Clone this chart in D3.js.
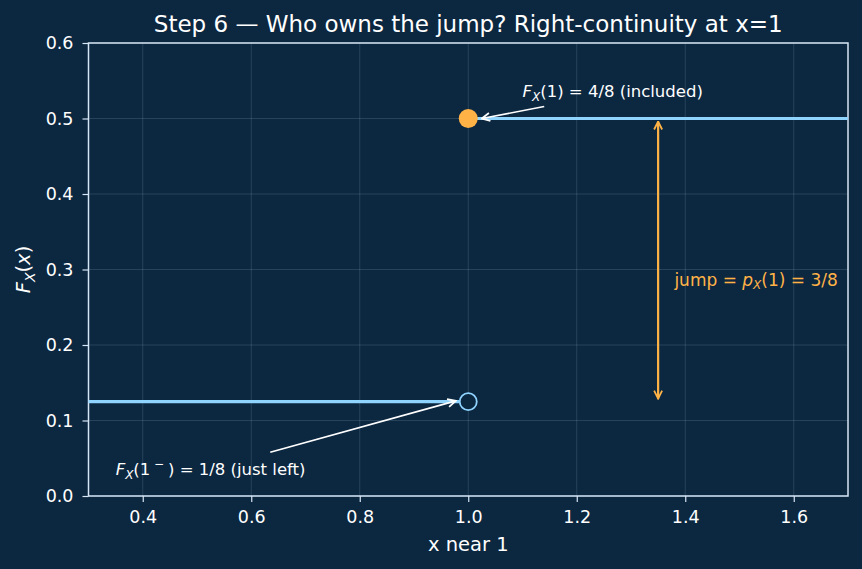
<!DOCTYPE html>
<html>
  <head>
    <meta charset="utf-8">
    <title>Step 6</title>
    <script src="https://d3js.org/d3.v7.min.js"></script>
    <style>
      body { margin: 0; background: #0c2740; }
      svg text { font-family: "DejaVu Sans", sans-serif; }
    </style>
  </head>
  <body>
    <script>
      // data
      const leftStep = [{x: 0.3, y: 0.125}, {x: 1.0, y: 0.125}];
      const rightStep = [{x: 1.0, y: 0.5}, {x: 1.7, y: 0.5}];
      const openPoint = {x: 1.0, y: 0.125};
      const closedPoint = {x: 1.0, y: 0.5};
      const jump = {x: 1.35, from: 0.125, to: 0.5};
      const xTicks = [0.4, 0.6, 0.8, 1.0, 1.2, 1.4, 1.6];
      const yTicks = [0.0, 0.1, 0.2, 0.3, 0.4, 0.5, 0.6];

      const W = 862, H = 569;
      const margin = {top: 43, right: 14, bottom: 73, left: 88.5};
      const width = W - margin.left - margin.right;
      const height = H - margin.top - margin.bottom;

      const bg = "#0c2740";
      const lineColor = "#8fd3ff";
      const orange = "#ffb347";
      const axisColor = "#d6e6f5";

      const svg = d3.select("body").append("svg")
        .attr("width", W).attr("height", H);
      svg.append("rect").attr("width", W).attr("height", H).attr("fill", bg);

      const defs = svg.append("defs");
      function arrowHead(id, color) {
        defs.append("marker")
          .attr("id", id).attr("viewBox", "0 0 10 10")
          .attr("refX", 9).attr("refY", 5)
          .attr("markerWidth", 10).attr("markerHeight", 10)
          .attr("markerUnits", "userSpaceOnUse")
          .attr("orient", "auto-start-reverse")
          .append("path").attr("d", "M1,1 L9,5 L1,9")
          .attr("fill", "none").attr("stroke", color).attr("stroke-width", 1.8);
      }
      arrowHead("ahWhite", "#ffffff");
      arrowHead("ahOrange", orange);

      const g = svg.append("g")
        .attr("transform", "translate(" + margin.left + "," + margin.top + ")");

      const x = d3.scaleLinear().domain([0.3, 1.7]).range([0, width]);
      const y = d3.scaleLinear().domain([0, 0.6]).range([height, 0]);

      // grid
      g.append("g").selectAll("line").data(xTicks).join("line")
        .attr("x1", d => x(d)).attr("x2", d => x(d))
        .attr("y1", 0).attr("y2", height)
        .attr("stroke", "#b0c8e0").attr("stroke-opacity", 0.22).attr("stroke-width", 0.8);
      g.append("g").selectAll("line").data(yTicks).join("line")
        .attr("x1", 0).attr("x2", width)
        .attr("y1", d => y(d)).attr("y2", d => y(d))
        .attr("stroke", "#b0c8e0").attr("stroke-opacity", 0.22).attr("stroke-width", 0.8);

      // axes
      const xAxis = g.append("g")
        .attr("transform", "translate(0," + height + ")")
        .call(d3.axisBottom(x).tickValues(xTicks).tickFormat(d3.format(".1f")).tickSizeOuter(0).tickSize(6).tickPadding(9));
      const yAxis = g.append("g")
        .call(d3.axisLeft(y).tickValues(yTicks).tickFormat(d3.format(".1f")).tickSizeOuter(0).tickSize(6).tickPadding(9));
      [xAxis, yAxis].forEach(a => {
        a.select(".domain").remove();
        a.selectAll("line").attr("stroke", axisColor).attr("stroke-width", 1.2);
        a.selectAll("text").attr("fill", "#ffffff").attr("font-size", 17.5)
          .attr("font-family", "DejaVu Sans");
      });

      // frame
      g.append("rect").attr("width", width).attr("height", height)
        .attr("fill", "none").attr("stroke", axisColor).attr("stroke-width", 1.5);

      // step lines
      const line = d3.line().x(d => x(d.x)).y(d => y(d.y));
      g.append("path").datum(leftStep).attr("d", line)
        .attr("fill", "none").attr("stroke", lineColor).attr("stroke-width", 3.2);
      g.append("path").datum(rightStep).attr("d", line)
        .attr("fill", "none").attr("stroke", lineColor).attr("stroke-width", 3.2);

      // points
      g.append("circle").attr("cx", x(openPoint.x)).attr("cy", y(openPoint.y)).attr("r", 8.5)
        .attr("fill", bg).attr("stroke", lineColor).attr("stroke-width", 1.8);
      g.append("circle").attr("cx", x(closedPoint.x)).attr("cy", y(closedPoint.y)).attr("r", 9.5)
        .attr("fill", orange);

      // jump arrow
      g.append("line")
        .attr("x1", x(jump.x)).attr("x2", x(jump.x))
        .attr("y1", y(jump.from) - 3).attr("y2", y(jump.to) + 3)
        .attr("stroke", orange).attr("stroke-width", 2.2)
        .attr("marker-start", "url(#ahOrange)").attr("marker-end", "url(#ahOrange)");

      const jt = g.append("text").attr("x", x(1.38)).attr("y", y(0.285))
        .attr("fill", orange).attr("font-size", 17).attr("dominant-baseline", "middle");
      jt.append("tspan").text("jump = ");
      jt.append("tspan").attr("font-style", "italic").text("p");
      jt.append("tspan").attr("font-style", "italic").attr("font-size", 12).attr("dy", 4).text("X");
      jt.append("tspan").attr("dy", -4).text("(1) = 3/8");

      // annotations
      const t1 = g.append("text").attr("x", x(1.1)).attr("y", y(0.5) - 22)
        .attr("fill", "#ffffff").attr("font-size", 16.5);
      t1.append("tspan").attr("font-style", "italic").text("F");
      t1.append("tspan").attr("font-style", "italic").attr("font-size", 12).attr("dy", 4).text("X");
      t1.append("tspan").attr("dy", -4).text("(1) = 4/8 (included)");
      g.append("line")
        .attr("x1", x(1.14)).attr("y1", y(0.5) - 12)
        .attr("x2", x(1.025)).attr("y2", y(0.5))
        .attr("stroke", "#ffffff").attr("stroke-width", 1.6)
        .attr("marker-end", "url(#ahWhite)");

      const t2 = g.append("text").attr("x", x(0.35)).attr("y", y(0.028))
        .attr("fill", "#ffffff").attr("font-size", 16.5);
      t2.append("tspan").attr("font-style", "italic").text("F");
      t2.append("tspan").attr("font-style", "italic").attr("font-size", 12).attr("dy", 4).text("X");
      t2.append("tspan").attr("dy", -4).text("(1");
      t2.append("tspan").attr("font-size", 12).attr("dy", -7).text(" \u2212 ");
      t2.append("tspan").attr("dy", 7).text(") = 1/8 (just left)");
      g.append("line")
        .attr("x1", x(0.635)).attr("y1", y(0.058))
        .attr("x2", x(0.977)).attr("y2", y(0.126))
        .attr("stroke", "#ffffff").attr("stroke-width", 1.6)
        .attr("marker-end", "url(#ahWhite)");

      // title and labels
      svg.append("text").attr("x", margin.left + width / 2).attr("y", 32)
        .attr("text-anchor", "middle").attr("fill", "#ffffff").attr("font-size", 23)
        .text("Step 6 \u2014 Who owns the jump? Right-continuity at x=1");
      svg.append("text").attr("x", margin.left + width / 2).attr("y", H - 18)
        .attr("text-anchor", "middle").attr("fill", "#ffffff").attr("font-size", 19.5)
        .text("x near 1");
      const yl = svg.append("text")
        .attr("transform", "translate(30," + (margin.top + height / 2) + ") rotate(-90)")
        .attr("text-anchor", "middle").attr("fill", "#ffffff").attr("font-size", 19.5);
      yl.append("tspan").attr("font-style", "italic").text("F");
      yl.append("tspan").attr("font-style", "italic").attr("font-size", 14).attr("dy", 5).text("X");
      yl.append("tspan").attr("dy", -5).text("(");
      yl.append("tspan").attr("font-style", "italic").text("x");
      yl.append("tspan").text(")");
    </script>
  </body>
</html>
